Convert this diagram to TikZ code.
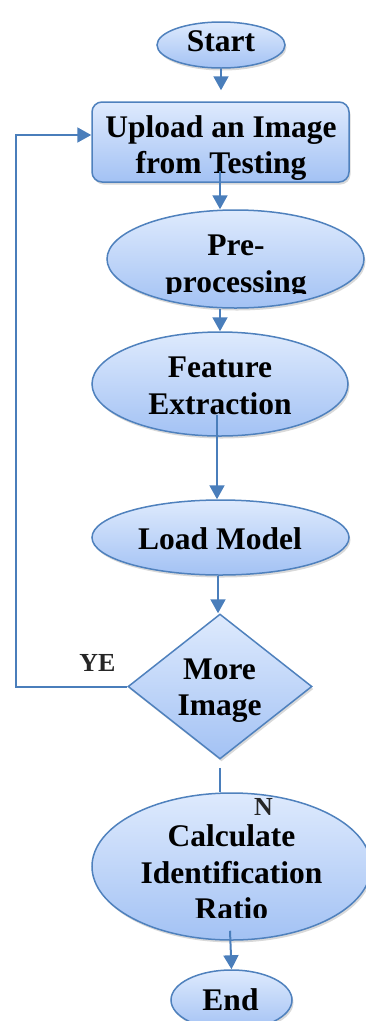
\documentclass[tikz,border=0pt]{standalone}
\usepackage{fontspec}
\setmainfont{Liberation Serif}
\usetikzlibrary{shapes.geometric,shadows,arrows.meta,calc}
\definecolor{edgeblue}{HTML}{4F81BD}
\definecolor{lineblue}{HTML}{4A7EBB}
\definecolor{topfill}{HTML}{DEEAFD}
\definecolor{botfill}{HTML}{A3C2F4}
\tikzset{
  shp/.style={draw=edgeblue, line width=1.5pt, top color=topfill, bottom color=botfill,
    drop shadow={opacity=0.3, shadow xshift=1.5pt, shadow yshift=-2.5pt}, inner sep=0pt},
  oval/.style={shp, ellipse},
  lbl/.style={font=\fontsize{31.5}{36.5}\selectfont\bfseries, align=center, inner sep=0pt},
  small/.style={font=\fontsize{26}{30}\selectfont\bfseries, text=black!85, inner sep=0pt},
  conn/.style={draw=lineblue, line width=2pt},
  arr/.style={conn, -{Triangle[width=15pt,length=14pt]}},
}
\begin{document}
\begin{tikzpicture}[x=1pt,y=-1pt]
\useasboundingbox (0,0) rectangle (365,1021);
% shapes
\node[oval, minimum width=128pt, minimum height=46pt] (start) at (221,45) {};
\node[shp, rectangle, rounded corners=10pt, minimum width=257pt, minimum height=80pt] (up) at (220.5,142) {};
\node[oval, minimum width=257pt, minimum height=98pt] (pre) at (235.5,259) {};
\node[oval, minimum width=256pt, minimum height=104pt] (feat) at (220,384) {};
\node[oval, minimum width=257pt, minimum height=75pt] (load) at (220.5,537.5) {};
\node[shp, diamond, minimum width=184pt, minimum height=145pt] (dia) at (220,686.5) {};
\node[oval, minimum width=279pt, minimum height=147pt] (calc) at (231.5,866.5) {};
\node[oval, minimum width=121pt, minimum height=60pt] (end) at (231.5,1000) {};
% texts
\node[lbl] (tstart) at (221,41.5) {Start};
\node[lbl] (tup) at (221,148) {Upload an Image\\from Testing};
\begin{scope}
  \clip (0,0) rectangle (365,293);
  \node[lbl] (tpre) at (236,267.2) {Pre-\\processing};
\end{scope}
\node[lbl] (tfeat) at (220,386) {Feature\\Extraction};
\node[lbl] (tload) at (220,538.5) {Load Model};
\node[lbl] (tdia) at (219.5,690.5) {More\\Image};
\begin{scope}
  \clip (0,0) rectangle (365,917);
  \node[lbl] (tcalc) at (231.5,872.4) {Calculate\\Identification\\Ratio};
\end{scope}
\node[lbl] (tend) at (230.5,999.4) {End};
\node[small] (ye) at (97.5,662.5) {YE};
\node[small] (no) at (263.5,806.5) {N};
% connectors
\coordinate (upout) at ($(up.south)+(-0.5,-12)$);
\coordinate (featout) at ($(feat.center)+(-3,31)$);
\coordinate (loadout) at ($(load.south)+(-2.5,0)$);
\coordinate (calcout) at ($(calc.south)+(-1.5,-10)$);
\coordinate (lb) at (16,686.5);
\coordinate (lt) at (16,135);
\draw[arr, shorten >=11pt] (start.south) -- (start.south |- up.north);
\draw[arr] (upout) -- (upout |- pre.north);
\draw[arr] (feat.north |- pre.south) -- (feat.north);
\draw[arr] (featout) -- (featout |- load.north);
\draw[arr] (loadout) -- (loadout |- dia.north);
\draw[conn, shorten <=8pt] (dia.south) -- (dia.south |- calc.north);
\draw[arr] (calcout) -- (end.north);
\draw[arr] (dia.west) -- (lb) -- (lt) -- (lt -| up.west);
\end{tikzpicture}
\end{document}
